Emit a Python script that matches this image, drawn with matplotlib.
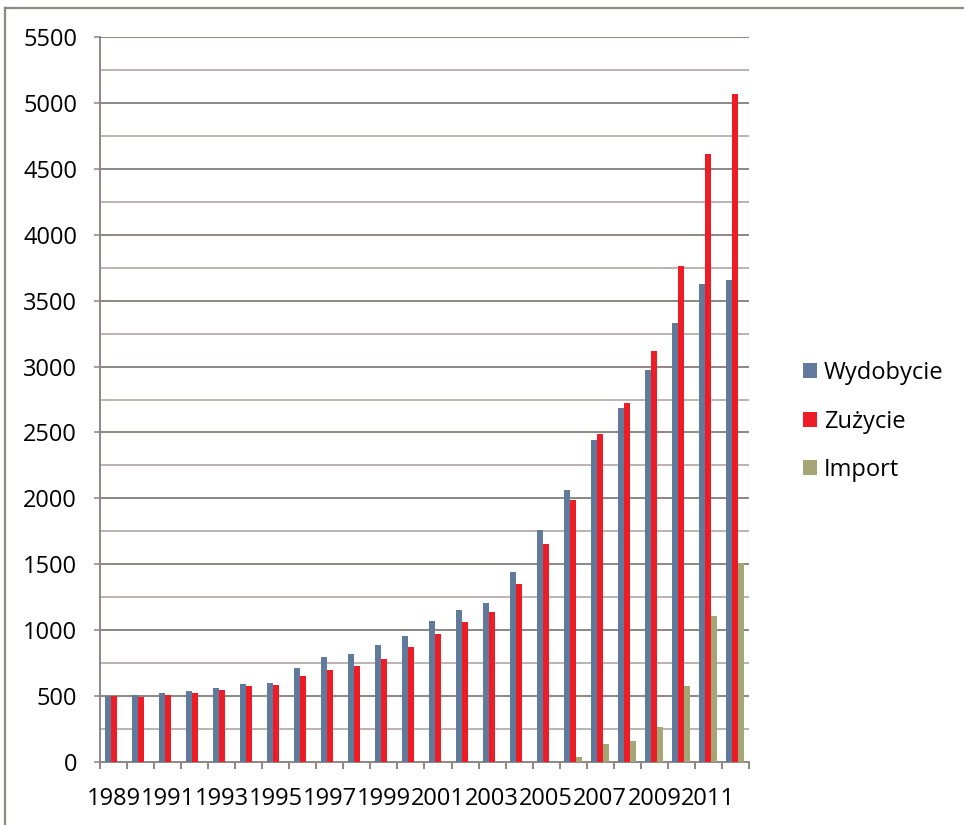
import matplotlib
matplotlib.use("Agg")
import matplotlib.pyplot as plt
from matplotlib.lines import Line2D
import numpy as np

plt.rcParams['font.family'] = ['Open Sans', 'DejaVu Sans']

years = list(range(1989, 2013))
wydobycie = [500, 505, 525, 535, 560, 590, 600, 712, 800, 820, 885, 958,
             1068, 1154, 1209, 1439, 1760, 2063, 2444, 2682, 2972, 3328, 3623, 3659]
zuzycie = [500, 495, 510, 520, 545, 575, 585, 650, 700, 725, 780, 870,
           972, 1061, 1141, 1348, 1654, 1990, 2487, 2722, 3118, 3762, 4616, 5068]
imports = [0, 0, 0, 0, 0, 0, 0, 0, 0, 0, 0, 0,
           0, 0, 0, 0, 0, 35, 139, 161, 265, 578, 1106, 1510]
series_names = ['Wydobycie', 'Zużycie', 'Import']
series_colors = ['#607A9B', '#EE1D25', '#A5A675']
tick_years = years[::2]

grid_major = '#8E8683'
grid_minor = '#BDB3B1'
axis_col = '#8E8683'
fs = 17

fig = plt.figure(figsize=(9.64, 8.25), dpi=100)
ax = fig.add_axes([100 / 964, 1 - 762 / 825, 649 / 964, (762 - 37) / 825])

x = np.arange(len(years))
w = 1 / 4.5
for k, (vals, name, col) in enumerate(zip([wydobycie, zuzycie, imports], series_names, series_colors)):
    ax.bar(x + (k - 1) * w, vals, width=w, color=col, label=name, zorder=3, linewidth=0)

ax.set_xlim(-0.5, len(years) - 0.5)
ax.set_ylim(0, 5500)

# gridlines: every 250, darker on labelled values
for v in range(250, 5501, 250):
    ax.axhline(v, color=grid_major if v % 500 == 0 else grid_minor, lw=1.4, zorder=1)

ax.set_yticks(range(0, 5501, 500))
ax.set_yticklabels([str(v) for v in range(0, 5501, 500)], fontsize=fs)
ax.tick_params(axis='y', length=4.5, width=1.1, color=axis_col, pad=12)

ax.set_xticks([years.index(y) for y in tick_years])
ax.set_xticklabels([str(y) for y in tick_years], fontsize=fs)
ax.set_xticks(np.arange(-0.5, len(years), 1), minor=True)
ax.tick_params(axis='x', which='major', length=0, pad=18)
ax.tick_params(axis='x', which='minor', length=5, width=1.4, color=axis_col, direction='out')

for s in ['top', 'right']:
    ax.spines[s].set_visible(False)
for s in ['left', 'bottom']:
    ax.spines[s].set_color(axis_col)
    ax.spines[s].set_linewidth(1.4)

leg = ax.legend(loc='upper left', bbox_to_anchor=(803 / 964, 1 - 361 / 825),
                bbox_transform=fig.transFigure, frameon=False, fontsize=fs,
                handlelength=0.58, handleheight=0.58, handletextpad=0.3,
                labelspacing=1.04, borderpad=0, borderaxespad=0)

# outer chart frame
fig.add_artist(Line2D([5 / 964, 1.0], [1 - 8 / 825, 1 - 8 / 825], color=axis_col, lw=1.6,
                      transform=fig.transFigure))
fig.add_artist(Line2D([5 / 964, 5 / 964], [0.0, 1 - 8 / 825], color=axis_col, lw=1.6,
                      transform=fig.transFigure))

fig.savefig('out.png', dpi=100)
